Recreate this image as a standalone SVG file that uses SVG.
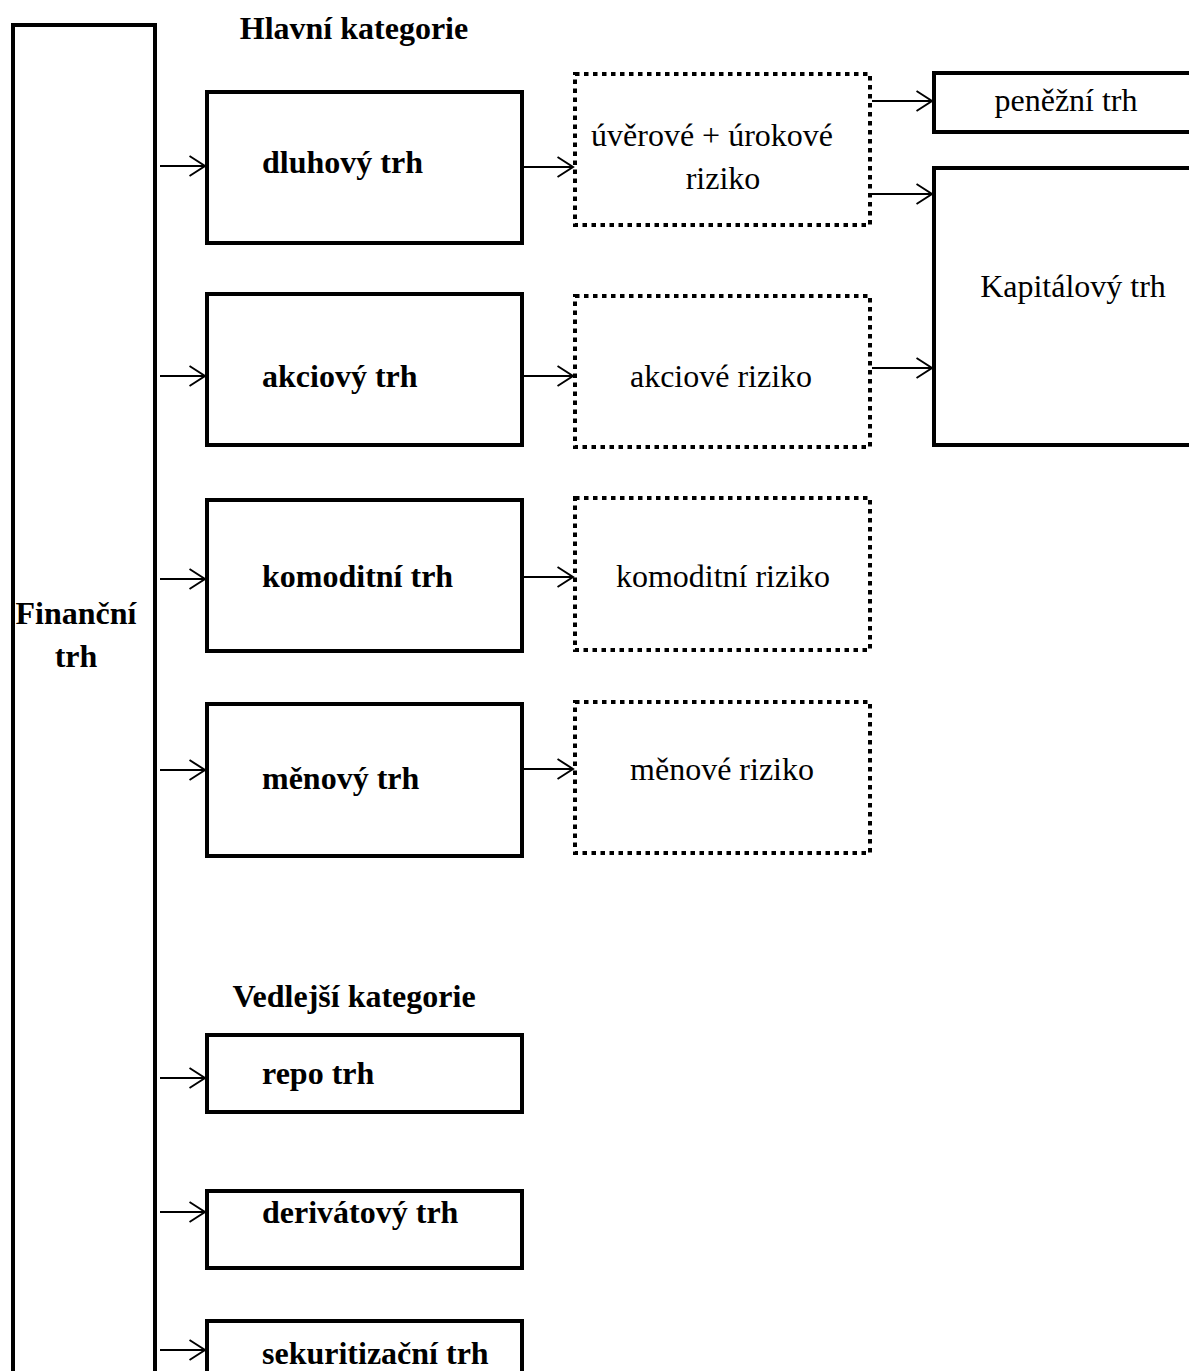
<svg xmlns="http://www.w3.org/2000/svg" width="1189" height="1371" viewBox="0 0 1189 1371">
<style>
.box{fill:#fff;stroke:#000;stroke-width:4}
.dot{fill:#fff;stroke:#000;stroke-width:4;stroke-dasharray:4.5 4.5}
.con{stroke:#000;stroke-width:2;fill:none;marker-end:url(#arr)}
.b{font-family:"Liberation Serif","Times New Roman",serif;font-weight:bold;font-size:32px;fill:#000}
.n{font-family:"Liberation Serif","Times New Roman",serif;font-size:32px;fill:#000}
</style>
<defs>
<marker id="arr" viewBox="0 0 18 22" refX="16.5" refY="11" markerWidth="18" markerHeight="22" markerUnits="userSpaceOnUse" orient="auto">
<path d="M1,1 L16.5,11 L1,21" fill="none" stroke="#000" stroke-width="2"/>
</marker>
</defs>
<rect width="1189" height="1371" fill="#fff"/>
<g id="financni-trh">
<rect class="box" x="13" y="25" width="142" height="1400"/>
<text class="b" x="76" y="624" text-anchor="middle">Finanční</text>
<text class="b" x="76" y="667" text-anchor="middle">trh</text>
</g>
<text id="hlavni" class="b" x="354" y="39" text-anchor="middle">Hlavní kategorie</text>
<text id="vedlejsi" class="b" x="354" y="1007" text-anchor="middle">Vedlejší kategorie</text>
<g id="dluhovy">
<rect class="box" x="207" y="92" width="315" height="151"/>
<text class="b" x="262" y="173">dluhový trh</text>
</g>
<g id="akciovy">
<rect class="box" x="207" y="294" width="315" height="151"/>
<text class="b" x="262" y="387">akciový trh</text>
</g>
<g id="komoditni">
<rect class="box" x="207" y="500" width="315" height="151"/>
<text class="b" x="262" y="587">komoditní trh</text>
</g>
<g id="menovy">
<rect class="box" x="207" y="704" width="315" height="152"/>
<text class="b" x="262" y="789">měnový trh</text>
</g>
<g id="repo">
<rect class="box" x="207" y="1035" width="315" height="77"/>
<text class="b" x="262" y="1084">repo trh</text>
</g>
<g id="derivatovy">
<rect class="box" x="207" y="1191" width="315" height="77"/>
<text class="b" x="262" y="1223">derivátový trh</text>
</g>
<g id="sekuritizacni">
<rect class="box" x="207" y="1321" width="315" height="100"/>
<text class="b" x="262" y="1364">sekuritizační trh</text>
</g>
<g id="uverove-riziko">
<rect class="dot" x="575" y="74" width="295" height="151"/>
<text class="n" x="712" y="146" text-anchor="middle">úvěrové + úrokové</text>
<text class="n" x="723" y="189" text-anchor="middle">riziko</text>
</g>
<g id="akciove-riziko">
<rect class="dot" x="575" y="296" width="295" height="151"/>
<text class="n" x="721" y="387" text-anchor="middle">akciové riziko</text>
</g>
<g id="komoditni-riziko">
<rect class="dot" x="575" y="498" width="295" height="152"/>
<text class="n" x="723" y="587" text-anchor="middle">komoditní riziko</text>
</g>
<g id="menove-riziko">
<rect class="dot" x="575" y="702" width="295" height="151"/>
<text class="n" x="722" y="780" text-anchor="middle">měnové riziko</text>
</g>
<g id="penezni">
<rect class="box" x="934" y="73" width="300" height="59"/>
<text class="n" x="1066" y="111" text-anchor="middle">peněžní trh</text>
</g>
<g id="kapitalovy">
<rect class="box" x="934" y="168" width="300" height="277"/>
<text class="n" x="1073" y="297" text-anchor="middle">Kapitálový trh</text>
</g>
<g id="connectors">
<line class="con" x1="160" y1="166" x2="205" y2="166"/>
<line class="con" x1="160" y1="376" x2="205" y2="376"/>
<line class="con" x1="160" y1="579" x2="205" y2="579"/>
<line class="con" x1="160" y1="770" x2="205" y2="770"/>
<line class="con" x1="160" y1="1078" x2="205" y2="1078"/>
<line class="con" x1="160" y1="1212" x2="205" y2="1212"/>
<line class="con" x1="160" y1="1350" x2="205" y2="1350"/>
<line class="con" x1="524" y1="167" x2="573" y2="167"/>
<line class="con" x1="524" y1="376" x2="573" y2="376"/>
<line class="con" x1="524" y1="577" x2="573" y2="577"/>
<line class="con" x1="524" y1="769" x2="573" y2="769"/>
<line class="con" x1="872" y1="101" x2="932" y2="101"/>
<line class="con" x1="872" y1="194" x2="932" y2="194"/>
<line class="con" x1="872" y1="368" x2="932" y2="368"/>
</g>
</svg>
